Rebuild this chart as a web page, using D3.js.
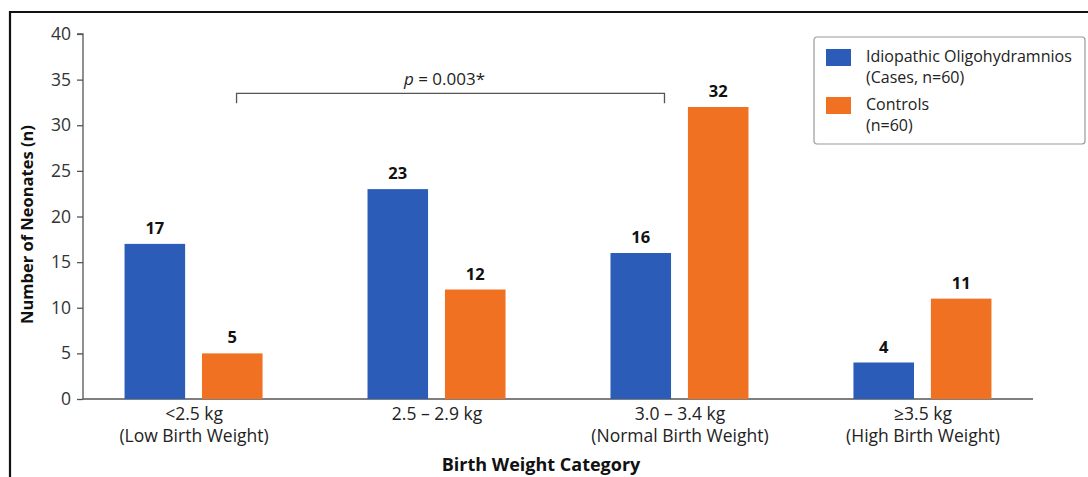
<!DOCTYPE html>
<html><head><meta charset="utf-8">
<script src="https://cdn.jsdelivr.net/npm/d3@7"></script>
<style>
html,body{margin:0;padding:0;background:#fff;}
svg{display:block;font-family:"Open Sans",sans-serif;}
</style></head>
<body><svg id="c" width="1088" height="477"></svg>
<script>
const categories = ["<2.5 kg", "2.5 – 2.9 kg", "3.0 – 3.4 kg", "≥3.5 kg"];
const subLabels = ["(Low Birth Weight)", "", "(Normal Birth Weight)", "(High Birth Weight)"];
const cases = [17, 23, 16, 4];
const controls = [5, 12, 32, 11];
const seriesNames = [["Idiopathic Oligohydramnios", "(Cases, n=60)"], ["Controls", "(n=60)"]];
const colors = ["#2b5cb8", "#f07121"];
const yTicks = [0, 5, 10, 15, 20, 25, 30, 35, 40];
const pText = "0.003*";

const svg = d3.select("#c");
// frame
svg.append("path").attr("d", "M10,477 V12 H1088").attr("fill", "none").attr("stroke", "#111").attr("stroke-width", 2.2);

const x0 = 83, x1 = 1033, yb = 399, yt = 34;
const x = d3.scalePoint().domain(categories).range([x0, x1]).padding(0.455);
const xs = d3.scaleBand().domain([0, 1]).range([-69, 69]).paddingInner(0.218);
const y = d3.scaleLinear().domain([0, 40]).range([yb, yt]);

// y axis
const ya = svg.append("g").attr("transform", `translate(${x0},0)`)
  .call(d3.axisLeft(y).tickValues(yTicks).tickSize(6).tickPadding(6));
ya.select(".domain").attr("stroke", "#555").attr("stroke-width", 1.3).attr("d", `M-6,${yt}H0V${yb}`);
ya.selectAll(".tick line").attr("stroke", "#555").attr("stroke-width", 1.3);
ya.selectAll(".tick text").attr("font-size", 17.5).attr("fill", "#333").attr("font-family", "Open Sans");

// x axis
const xa = svg.append("g").attr("transform", `translate(0,${yb})`)
  .call(d3.axisBottom(x).tickSize(0).tickPadding(0));
xa.select(".domain").attr("stroke", "#555").attr("stroke-width", 1.3).attr("d", `M${x0},0H${x1}`);
xa.selectAll(".tick text").remove();
xa.selectAll(".tick").each(function(d, i) {
  const t = d3.select(this).append("text").attr("text-anchor", "middle").attr("fill", "#222")
    .attr("font-size", 17.5).attr("font-family", "Open Sans");
  t.append("tspan").attr("x", 0).attr("y", 21).text(d);
  if (subLabels[i]) t.append("tspan").attr("x", 0).attr("y", 43).text(subLabels[i]);
});

// bars
const data = categories.map((c, i) => ({c, vals: [cases[i], controls[i]]}));
const g = svg.selectAll(".grp").data(data).join("g").attr("transform", d => `translate(${x(d.c)},0)`);
g.selectAll("rect").data(d => d.vals).join("rect")
  .attr("x", (v, j) => xs(j)).attr("width", xs.bandwidth())
  .attr("y", v => y(v)).attr("height", v => yb - y(v))
  .attr("fill", (v, j) => colors[j]);
g.selectAll("text.val").data(d => d.vals).join("text").attr("class", "val")
  .attr("x", (v, j) => xs(j) + xs.bandwidth() / 2).attr("y", v => y(v) - 10)
  .attr("text-anchor", "middle").attr("font-weight", "bold").attr("font-size", 16.5).attr("fill", "#111")
  .text(v => v);

// y title
svg.append("text").attr("transform", `translate(33,${(yb + yt) / 2 + 8}) rotate(-90)`)
  .attr("text-anchor", "middle").attr("font-weight", "bold").attr("font-size", 16.5).attr("fill", "#111")
  .text("Number of Neonates (n)");
// x title
svg.append("text").attr("x", 541).attr("y", 471).attr("text-anchor", "middle")
  .attr("font-weight", "bold").attr("font-size", 18).attr("fill", "#111").text("Birth Weight Category");

// significance bracket between group 1 and group 3
const bx1 = x(categories[0]) + 43, bx2 = x(categories[2]) - 15;
const by = y(33.5);
svg.append("path").attr("d", `M${bx1},${by + 10}V${by}H${bx2}V${by + 10}`)
  .attr("fill", "none").attr("stroke", "#555").attr("stroke-width", 1.3);
const pt = svg.append("text").attr("x", (bx1 + bx2) / 2 - 6).attr("y", by - 8).attr("text-anchor", "middle")
  .attr("font-size", 17).attr("fill", "#222");
pt.append("tspan").attr("font-style", "italic").text("p");
pt.append("tspan").text(" = " + pText);

// legend
const lg = svg.append("g").attr("transform", "translate(814,37)");
lg.append("rect").attr("width", 271).attr("height", 107).attr("rx", 3)
  .attr("fill", "#fff").attr("stroke", "#999").attr("stroke-width", 1.2);
seriesNames.forEach((s, i) => {
  lg.append("rect").attr("x", 12).attr("y", 12 + i * 48).attr("width", 25).attr("height", 17).attr("fill", colors[i]);
  s.forEach((line, k) => {
    lg.append("text").attr("x", 52).attr("y", 25 + i * 48 + k * 21).attr("font-size", 16).attr("fill", "#222").text(line);
  });
});
</script></body></html>
